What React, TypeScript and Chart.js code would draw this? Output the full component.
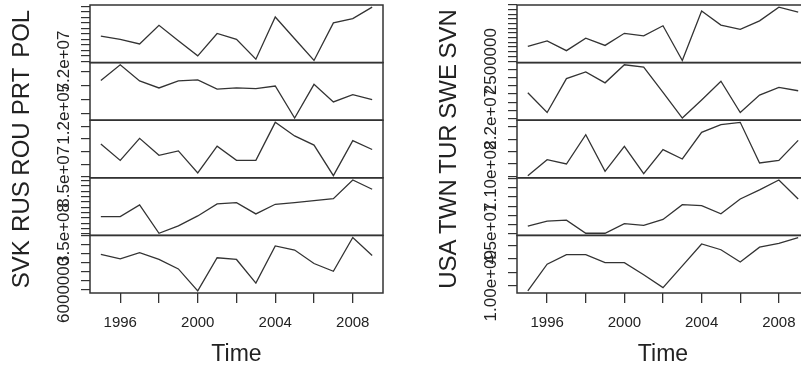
import React, { useEffect, useRef } from "react";
import { Chart, registerables } from "chart.js";

Chart.register(...registerables);

// ---------- data ----------
const years = [1995, 1996, 1997, 1998, 1999, 2000, 2001, 2002, 2003, 2004, 2005, 2006, 2007, 2008, 2009];
const xTickYears = [1996, 1998, 2000, 2002, 2004, 2006, 2008];
const xLabelYears = [1996, 2000, 2004, 2008];

const POL = [52231000, 52201000, 52159000, 52330000, 52189000, 52051000, 52255000, 52201000, 52021000, 52405000, 52207000, 52009000, 52351000, 52390000, 52495000];
const PRT = [12119000, 12175000, 12117000, 12092000, 12117000, 12121000, 12088000, 12092000, 12090000, 12099000, 11984500, 12105000, 12042000, 12068000, 12050000];
const ROU = [86296000, 85648000, 86525500, 85850500, 86026000, 85148500, 86215000, 85648000, 85648000, 87160000, 86620000, 86255500, 85040500, 86431000, 86080000];
const RUS = [356500000, 356500000, 360875000, 350250000, 353000000, 356750000, 361250000, 361750000, 357500000, 361125000, 361750000, 362500000, 363250000, 370250000, 366750000];
const SVK = [6078750, 6069000, 6082500, 6067500, 6046500, 5997750, 6071250, 6067500, 6015000, 6097500, 6088500, 6058500, 6041250, 6116250, 6076500];

const SVN = [2515750, 2521700, 2511200, 2524500, 2516800, 2529750, 2526950, 2537800, 2500700, 2553550, 2538500, 2533950, 2543050, 2557750, 2552500];
const SWE = [22063200, 22015200, 22097600, 22113600, 22087200, 22131200, 22125600, 22064000, 22001600, 22045600, 22091200, 22015200, 22057600, 22076000, 22068000];
const TUR = [110270000, 116750000, 114995000, 126875000, 112025000, 122150000, 111080000, 120800000, 117020000, 127820000, 130925000, 131870000, 115400000, 116480000, 124580000];
const TWN = [45414000, 45684000, 45738000, 45018000, 45018000, 45540000, 45450000, 45774000, 46584000, 46530000, 46080000, 46890000, 47394000, 47934000, 46890000];
const USA = [980800000, 1080400000, 1116400000, 1116400000, 1086400000, 1086400000, 1040800000, 992800000, 1074400000, 1156000000, 1134400000, 1088800000, 1144000000, 1158400000, 1180000000];

const leftNames = ["POL", "PRT", "ROU", "RUS", "SVK"];
const leftSeries = [POL, PRT, ROU, RUS, SVK];
const leftTickSteps = [50000, 50000, 500000, 2000000, 20000];
const leftLabelValues = [52000000, 12000000, 85000000, 350000000, 6000000];
const leftLabelTexts = ["5.2e+07", "1.2e+07", "8.5e+07", "3.5e+08", "6000000"];

const rightNames = ["SVN", "SWE", "TUR", "TWN", "USA"];
const rightSeries = [SVN, SWE, TUR, TWN, USA];
const rightTickSteps = [5000, 20000, 5000000, 500000, 50000000];
const rightLabelValues = [2500000, 22000000, 110000000, 45000000, 1000000000];
const rightLabelTexts = ["2500000", "2.2e+07", "1.10e+08", "4.5e+07", "1.00e+09"];

const xTitle = "Time";

// ---------- styling ----------
const FONT = '"Liberation Sans", Arial, Helvetica, sans-serif';
const INK = "#222";
const LINE = "#333";

type ColumnProps = {
  names: string[];
  series: number[][];
  steps: number[];
  labelValues: number[];
  labelTexts: string[];
};

function buildConfig(p: ColumnProps, padRight: number): any {
  const ids = p.names.map((n) => "y_" + n);
  const scales: any = {};
  const span = years[years.length - 1] - years[0];
  scales.x = {
    type: "linear",
    position: "bottom",
    min: years[0] - 0.04 * span,
    max: years[years.length - 1] + 0.04 * span,
    afterBuildTicks: (s: any) => {
      s.ticks = xTickYears.map((v) => ({ value: v }));
    },
    afterFit: (s: any) => {
      s.height = 84;
    },
    ticks: {
      autoSkip: false,
      maxRotation: 0,
      minRotation: 0,
      padding: 11,
      color: INK,
      font: { family: FONT, size: 15 },
      callback: (v: any) => (xLabelYears.includes(Number(v)) ? String(v) : ""),
    },
    grid: { drawOnChartArea: false, drawTicks: true, tickLength: 10, color: LINE, lineWidth: 1.3 },
    border: { display: false },
    title: {
      display: true,
      text: xTitle,
      color: INK,
      font: { family: FONT, size: 23 },
      padding: { top: 0, bottom: 9 },
    },
  };
  p.series.forEach((arr, i) => {
    const lo = Math.min(...arr);
    const hi = Math.max(...arr);
    const r = hi - lo;
    const step = p.steps[i];
    scales[ids[i]] = {
      type: "linear",
      position: "left",
      stack: "col",
      stackWeight: 1,
      weight: p.series.length - i,
      min: lo - 0.04 * r,
      max: hi + 0.04 * r,
      afterBuildTicks: (s: any) => {
        const t: any[] = [];
        const k0 = Math.ceil(s.min / step);
        const k1 = Math.floor(s.max / step);
        for (let k = k0; k <= k1; k++) t.push({ value: k * step });
        s.ticks = t;
      },
      afterFit: (s: any) => {
        s.width = 90;
      },
      ticks: { display: false },
      grid: { drawOnChartArea: false, drawTicks: true, tickLength: 9, color: LINE, lineWidth: 1.2 },
      border: { display: false },
    };
  });

  const datasets = p.series.map((arr, i) => ({
    label: p.names[i],
    data: years.map((yr, k) => ({ x: yr, y: arr[k] })),
    yAxisID: ids[i],
    xAxisID: "x",
    borderColor: LINE,
    borderWidth: 1.3,
    pointRadius: 0,
    fill: false,
    tension: 0,
  }));

  const panelPlugin = {
    id: "panels",
    afterDraw(chart: any) {
      const ctx = chart.ctx;
      const { left, right } = chart.chartArea;
      ids.forEach((id, i) => {
        const s = chart.scales[id];
        ctx.save();
        ctx.strokeStyle = LINE;
        ctx.lineWidth = 1.5;
        ctx.strokeRect(left, s.top, right - left, s.bottom - s.top);
        ctx.restore();

        // panel name
        ctx.save();
        ctx.translate(22, (s.top + s.bottom) / 2);
        ctx.rotate(-Math.PI / 2);
        ctx.font = `24px ${FONT}`;
        ctx.fillStyle = INK;
        ctx.textAlign = "center";
        ctx.textBaseline = "middle";
        ctx.fillText(p.names[i], 0, 0);
        ctx.restore();

        // tick label
        const yy = s.getPixelForValue(p.labelValues[i]);
        ctx.save();
        ctx.translate(64, yy);
        ctx.rotate(-Math.PI / 2);
        ctx.font = `17px ${FONT}`;
        ctx.fillStyle = INK;
        ctx.textAlign = "center";
        ctx.textBaseline = "middle";
        ctx.fillText(p.labelTexts[i], 0, 0);
        ctx.restore();
      });
    },
  };

  return {
    type: "line",
    data: { datasets },
    options: {
      responsive: false,
      animation: false,
      devicePixelRatio: 1,
      layout: { padding: { left: 0, right: padRight, top: 5, bottom: 0 } },
      plugins: { legend: { display: false }, tooltip: { enabled: false } },
      scales,
    },
    plugins: [panelPlugin],
  };
}

function Column(props: ColumnProps & { left: number; padRight: number }) {
  const ref = useRef<HTMLCanvasElement | null>(null);
  useEffect(() => {
    if (!ref.current) return;
    const chart = new Chart(ref.current, buildConfig(props, props.padRight));
    return () => chart.destroy();
  }, []);
  return (
    <canvas
      ref={ref}
      width={400}
      height={377}
      style={{ position: "absolute", left: props.left, top: 0, width: 400, height: 377 }}
    />
  );
}

export default function App() {
  return (
    <div
      style={{
        position: "absolute",
        left: 0,
        top: 0,
        width: 801,
        height: 377,
        overflow: "hidden",
        background: "#fff",
      }}
    >
      <Column
        names={leftNames}
        series={leftSeries}
        steps={leftTickSteps}
        labelValues={leftLabelValues}
        labelTexts={leftLabelTexts}
        left={0}
        padRight={17}
      />
      <Column
        names={rightNames}
        series={rightSeries}
        steps={rightTickSteps}
        labelValues={rightLabelValues}
        labelTexts={rightLabelTexts}
        left={427}
        padRight={18}
      />
    </div>
  );
}
